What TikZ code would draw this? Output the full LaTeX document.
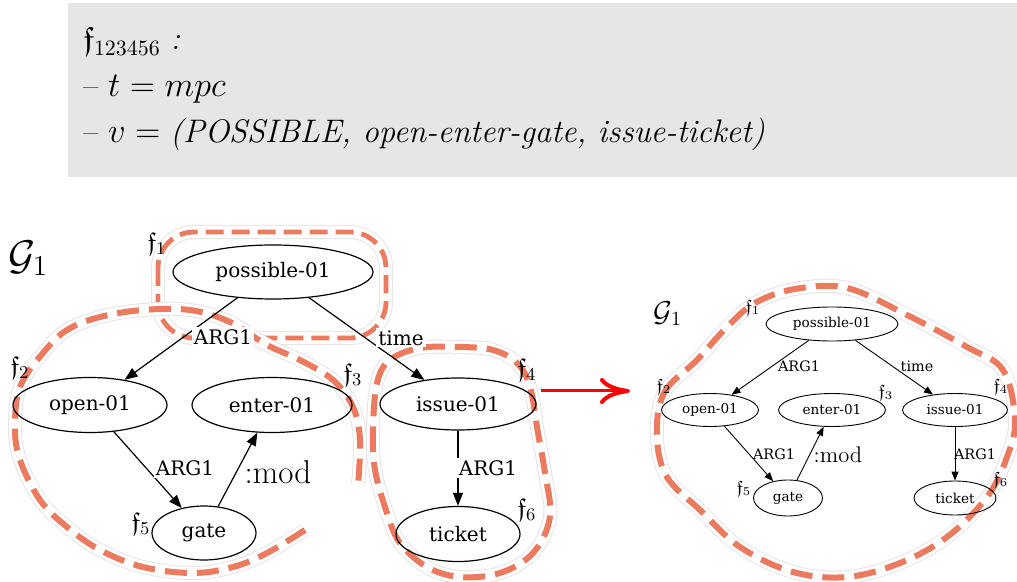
\documentclass[tikz,border=0pt]{standalone}
\usepackage{amssymb}
\usepackage{amsmath}
\usepackage{fontspec}
\newfontfamily\gvfont{DejaVu Serif}
\usetikzlibrary{positioning,shapes.geometric,arrows.meta}
\definecolor{blobred}{RGB}{236,122,94}
\definecolor{boxgray}{RGB}{230,230,230}

\begin{document}
\begin{tikzpicture}[x=0.5pt, y=-0.5pt,
    amr/.style={ellipse, draw, line width=0.6pt, inner sep=0pt, font=\gvfont\fontsize{10}{12}\selectfont},
    amrs/.style={ellipse, draw, line width=0.45pt, inner sep=0pt, font=\gvfont\fontsize{6.8}{8}\selectfont},
    rel/.style={font=\gvfont\fontsize{10}{12}\selectfont, fill=white, inner sep=1pt},
    rels/.style={font=\gvfont\fontsize{7.2}{8}\selectfont, inner sep=1pt},
    edge/.style={-{Triangle[length=6.5pt,width=5pt]}, line width=0.6pt},
    edges/.style={-{Triangle[length=4.5pt,width=3.5pt]}, line width=0.45pt},
    blob/.style={draw=blobred, line width=3pt, dash pattern=on 11pt off 5pt,
      preaction={draw=black!10, line width=7pt, solid},
      preaction={draw=white, line width=6pt, solid}},
    hdr/.style={anchor=base west, inner sep=0pt, font=\fontsize{16.3}{19}\selectfont}]
      \useasboundingbox (0,0) rectangle (1017,582);
      %\draw [dotted] (0,0) grid[step=50pt] (1017,582);
      \fill [boxgray] (68,3) rectangle (1017,177);
      \node [hdr]  (hl1) at (83, 50) {$\mathfrak{f}_{123456}$ \textit{:}};
      \node [hdr]  (hl2) at (83, 97) {-- $t = mpc$};
      \node [hdr]  (hl3) at (83,143) {-- $v =$ \textit{(POSSIBLE, open-enter-gate, issue-ticket)}};
      % groups on the left graph
      \draw [blob, line width=2.4pt, dash pattern=on 9pt off 4pt, rounded corners=18pt] (158,232) rectangle (386,338);
      \draw [blob] plot[smooth, tension=0.6] coordinates {(305,530) (267,553) (233,567) (193,573) (143,567)
        (100,550) (67,527) (40,500) (20,460) (15,427) (20,387) (43,353) (67,330) (100,317) (143,310)
        (190,310) (230,322) (267,345) (300,360) (333,380) (353,407) (360,440) (358,485)};
      \draw [blob] plot[smooth cycle, tension=0.6] coordinates {(377,383) (373,430) (375,470) (387,513)
        (400,543) (427,567) (460,577) (500,573) (533,553) (550,517) (545,473) (538,433) (530,387)
        (517,363) (493,350) (460,347) (420,348) (390,360)};
      % group on the right graph
      \draw [blob] plot[smooth cycle, tension=0.6] coordinates {(657,437) (664,393) (697,360) (727,327)
        (755,303) (795,289) (847,288) (907,315) (967,347) (1003,370) (1015,420) (1007,457) (987,497)
        (947,537) (900,563) (847,577) (793,572) (740,547) (700,510) (667,477)};
      % left graph
      \node                  (g1) at ( 28,258) {\fontsize{20}{24}\selectfont$\mathcal{G}_1$};
      \node [amr, minimum width=100pt, minimum height=27pt]   (poss) at (273,272) {possible-01};
      \node [amr, minimum width=77pt,  minimum height=27.5pt] (open) at ( 90,405) {open-01};
      \node [amr, minimum width=80pt,  minimum height=27.5pt] (enter) at (272,405) {enter-01};
      \node [amr, minimum width=52pt,  minimum height=27pt]   (gate) at (204,533) {gate};
      \node [amr, minimum width=78pt,  minimum height=26pt]   (issue) at (458,404) {issue-01};
      \node [amr, minimum width=62pt,  minimum height=27.5pt] (ticket) at (458,534) {ticket};
      \node                  (f1) at (157,244) {\fontsize{13}{15}\selectfont$\mathfrak{f}_1$};
      \node                  (f2) at ( 20,368) {\fontsize{13}{15}\selectfont$\mathfrak{f}_2$};
      \node                  (f3) at (353,375) {\fontsize{13}{15}\selectfont$\mathfrak{f}_3$};
      \node                  (f4) at (527,370) {\fontsize{13}{15}\selectfont$\mathfrak{f}_4$};
      \node                  (f5) at (141,524) {\fontsize{13}{15}\selectfont$\mathfrak{f}_5$};
      \node                  (f6) at (527,510) {\fontsize{13}{15}\selectfont$\mathfrak{f}_6$};
      \draw [edge] (poss) -- (open);
      \draw [edge] (poss) -- (issue);
      \draw [edge] (open) -- (gate);
      \draw [edge] (gate) -- (enter);
      \draw [edge] (issue) -- (ticket);
      \node [rel]            (r1) at (223,337) {ARG1};
      \node [rel]            (r2) at (401,338) {time};
      \node [rel]            (r3) at (185,468) {ARG1};
      \node [inner sep=1pt]  (r4) at (278,472) {\fontsize{16.5}{19}\selectfont :mod};
      \node [rel]            (r5) at (488,468) {ARG1};
      % arrow to the merged view
      \coordinate (arra) at (541,391);
      \coordinate (arrb) at (630,391);
      \draw [red, line width=1.5pt, -{Computer Modern Rightarrow[length=15pt,width=13pt,line width=2pt]}] (arra) -- (arrb);
      % right graph
      \node                  (g1b) at (668,314) {\fontsize{14}{17}\selectfont$\mathcal{G}_1$};
      \node [amrs, minimum width=66pt,   minimum height=17pt]   (poss2) at (832,324) {possible-01};
      \node [amrs, minimum width=48.5pt, minimum height=16.5pt] (open2) at (710,410) {open-01};
      \node [amrs, minimum width=53.5pt, minimum height=16.5pt] (enter2) at (832,410) {enter-01};
      \node [amrs, minimum width=52.5pt, minimum height=16.5pt] (issue2) at (955,410) {issue-01};
      \node [amrs, minimum width=34.5pt, minimum height=18pt]   (gate2) at (788,498) {gate};
      \node [amrs, minimum width=41pt,   minimum height=17pt]   (ticket2) at (955,498) {ticket};
      \node                  (f1b) at ( 753,308) {\fontsize{9}{11}\selectfont$\mathfrak{f}_1$};
      \node                  (f2b) at ( 664,387) {\fontsize{9}{11}\selectfont$\mathfrak{f}_2$};
      \node                  (f3b) at ( 886,393) {\fontsize{9}{11}\selectfont$\mathfrak{f}_3$};
      \node                  (f4b) at (1001,387) {\fontsize{9}{11}\selectfont$\mathfrak{f}_4$};
      \node                  (f5b) at ( 744,489) {\fontsize{9}{11}\selectfont$\mathfrak{f}_5$};
      \node                  (f6b) at (1001,480) {\fontsize{9}{11}\selectfont$\mathfrak{f}_6$};
      \draw [edges] (poss2) -- (open2);
      \draw [edges] (poss2) -- (issue2);
      \draw [edges] (open2) -- (gate2);
      \draw [edges] (gate2) -- (enter2);
      \draw [edges] (issue2) -- (ticket2);
      \node [rels]           (r1b) at (799,366) {ARG1};
      \node [rels]           (r2b) at (917,366) {time};
      \node [rels]           (r3b) at (774,454) {ARG1};
      \node [inner sep=1pt]  (r4b) at (838,455) {\fontsize{11.3}{13}\selectfont :mod};
      \node [rels]           (r5b) at (975,454) {ARG1};
\end{tikzpicture}
\end{document}
